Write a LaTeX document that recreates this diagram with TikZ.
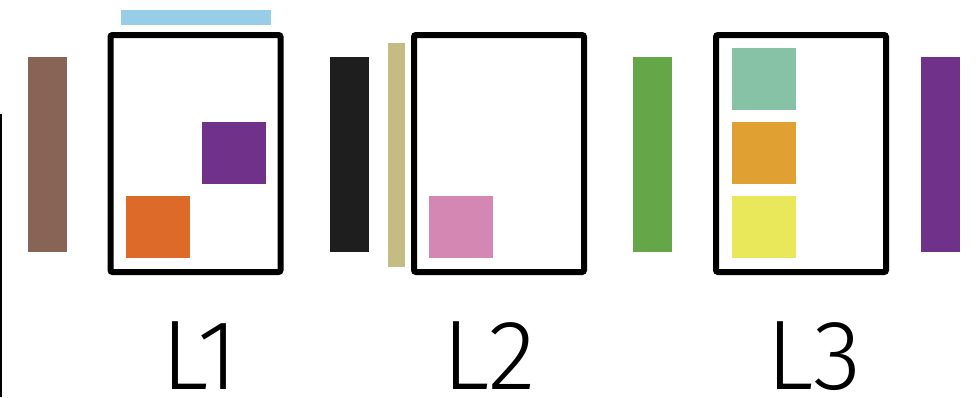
\documentclass[tikz,border=0pt]{standalone}
\usepackage{fontspec}
\newfontfamily\layerfont{Fira Sans}[UprightFont=* Light]
\usetikzlibrary{positioning}
\definecolor{barbrown}{RGB}{135,100,85}
\definecolor{barblack}{RGB}{30,30,30}
\definecolor{bartan}{RGB}{196,188,130}
\definecolor{bargreen}{RGB}{101,166,72}
\definecolor{barpurple}{RGB}{111,49,138}
\definecolor{barsky}{RGB}{151,205,230}
\definecolor{blkorange}{RGB}{221,106,41}
\definecolor{blkpink}{RGB}{212,135,178}
\definecolor{blkteal}{RGB}{135,194,166}
\definecolor{blkamber}{RGB}{225,160,50}
\definecolor{blkyellow}{RGB}{232,232,90}

\begin{document}
\begin{tikzpicture}[x=1pt,y=-1pt,
    bar/.style={inner sep=0pt, outer sep=0pt, minimum width=39pt, minimum height=195pt},
    frame/.style={draw, line width=6pt, rounded corners=2pt, minimum width=170pt, minimum height=237pt, inner sep=0pt},
    block/.style={inner sep=0pt, outer sep=0pt, minimum width=64pt, minimum height=62pt},
    layername/.style={font=\layerfont\fontsize{99}{99}\selectfont, anchor=base, inner sep=0pt}
]
    \useasboundingbox (0,0) rectangle (980,397);
    % left edge
    \node[fill=black, inner sep=0pt, minimum width=2pt, minimum height=283pt] (edge) at (1,255.5) {};
    % bars between the layers
    \node[bar, fill=barbrown] (brown) at (47,154.5) {};
    \node[bar, fill=barblack] (black) at (349.5,154.5) {};
    \node[bar, fill=bartan, minimum width=17pt, minimum height=224pt] (tan) at (396.5,155) {};
    \node[bar, fill=bargreen] (green) at (652.5,154.5) {};
    \node[bar, fill=barpurple] (purple) at (940,154.5) {};
    \node[bar, fill=barsky, minimum width=150pt, minimum height=15pt] (sky) at (196,17.5) {};
    % layer frames
    \node[frame] (l1) at (195.5,153.5) {};
    \node[frame] (l2) at (499,153.5) {};
    \node[frame] (l3) at (801,153.5) {};
    % blocks inside
    \node[block, fill=barpurple] (purpleblk) at (234,153) {};
    \node[block, fill=blkorange] (orangeblk) at (158,227) {};
    \node[block, fill=blkpink] (pinkblk) at (461,227) {};
    \node[block, fill=blkteal] (tealblk) at (763.5,79) {};
    \node[block, fill=blkamber, below=12pt of tealblk] (amberblk) {};
    \node[block, fill=blkyellow, below=12pt of amberblk] (yellowblk) {};
    % names
    \node[layername] (n1) at (200,389) {L1};
    \node[layername] (n2) at (489,389) {L2};
    \node[layername] (n3) at (814,389) {L3};
\end{tikzpicture}
\end{document}
